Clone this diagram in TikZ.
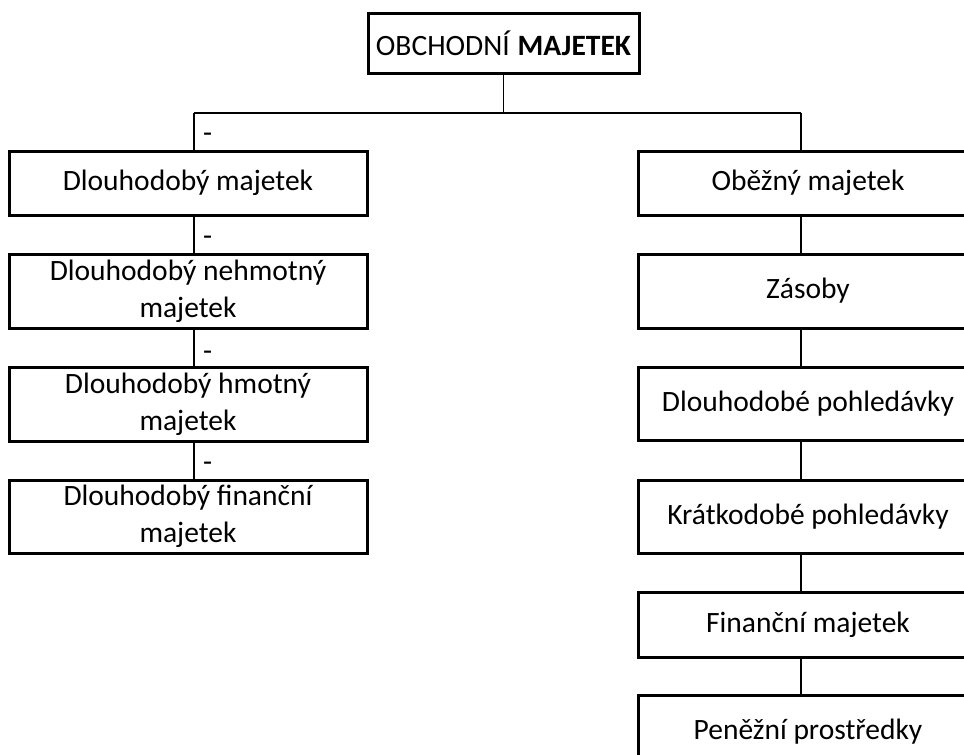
\documentclass[tikz,border=0pt]{standalone}
\usepackage{fontspec}
\setmainfont{Carlito}
\begin{document}
\begin{tikzpicture}[x=1pt,y=-1pt,
  box/.style={draw=black, line width=3pt, align=center, inner sep=0pt,
    font=\fontsize{29.5}{37}\selectfont},
  conn/.style={draw=black, line width=1.6pt},
  dashlbl/.style={anchor=base west, inner sep=0pt, font=\fontsize{29.5}{34}\selectfont}]
\useasboundingbox (0,0) rectangle (964,755);
\clip (0,0) rectangle (964,755);
\fill[white] (0,0) rectangle (964,755);
% top
\node[box, minimum width=271pt, minimum height=60pt] (top) at (503.5,43) {OBCHODNÍ \textbf{MAJETEK}};
% left column
\node[box, minimum width=358pt, minimum height=64pt] (L1) at (188,183) {Dlouhodobý majetek};
\node[box, minimum width=358pt, minimum height=74pt] (L2) at (188,291) {Dlouhodobý nehmotný\\majetek};
\node[box, minimum width=358pt, minimum height=74pt] (L3) at (188,404) {Dlouhodobý hmotný\\majetek};
\node[box, minimum width=358pt, minimum height=73pt] (L4) at (188,516.5) {Dlouhodobý finanční\\majetek};
% right column
\node[box, minimum width=340pt, minimum height=64pt] (R1) at (808,183) {Oběžný majetek};
\node[box, minimum width=340pt, minimum height=74pt] (R2) at (808,291) {Zásoby};
\node[box, minimum width=340pt, minimum height=73pt] (R3) at (808,403.5) {Dlouhodobé pohledávky};
\node[box, minimum width=340pt, minimum height=73pt] (R4) at (808,516.5) {Krátkodobé pohledávky};
\node[box, minimum width=340pt, minimum height=65pt] (R5) at (808,624.5) {Finanční majetek};
\node[box, minimum width=340pt, minimum height=74pt] (R6) at (808,732) {Peněžní prostředky};
% connectors
\coordinate (lx) at (194,113);
\coordinate (rx) at (801,113);
\draw[conn] (top.south) -- (top.south |- lx);
\draw[conn] (lx) -- (rx);
\draw[conn] (lx) -- (lx |- L1.north);
\draw[conn] (rx) -- (rx |- R1.north);
\draw[conn] (lx |- L1.south) -- (lx |- L2.north);
\draw[conn] (lx |- L2.south) -- (lx |- L3.north);
\draw[conn] (lx |- L3.south) -- (lx |- L4.north);
\draw[conn] (rx |- R1.south) -- (rx |- R2.north);
\draw[conn] (rx |- R2.south) -- (rx |- R3.north);
\draw[conn] (rx |- R3.south) -- (rx |- R4.north);
\draw[conn] (rx |- R4.south) -- (rx |- R5.north);
\draw[conn] (rx |- R5.south) -- (rx |- R6.north);
% dash labels
\node[dashlbl] (d1) at (203,142) {-};
\node[dashlbl] (d2) at (203,245) {-};
\node[dashlbl] (d3) at (203,360) {-};
\node[dashlbl] (d4) at (203,471) {-};
\end{tikzpicture}
\end{document}
